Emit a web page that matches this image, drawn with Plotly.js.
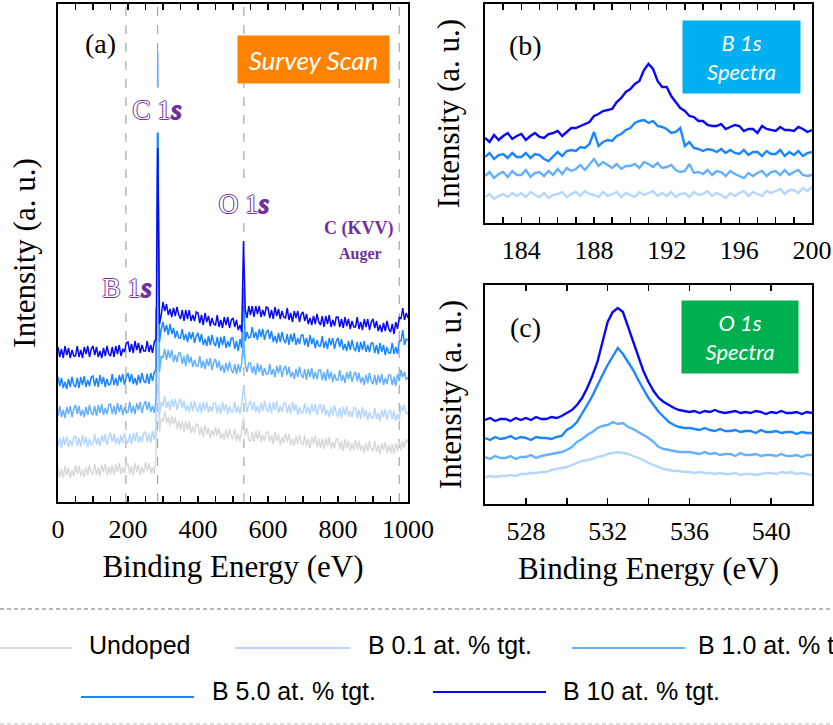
<!DOCTYPE html>
<html><head><meta charset="utf-8">
<script src="https://cdn.plot.ly/plotly-3.0.1.min.js"></script>
<style>html,body{margin:0;padding:0;background:#fff}</style>
</head><body><div id="chart" style="width:833px;height:725px"></div>
<script>
// ---------- DATA ----------
const seriesNames = ['Undoped', 'B 0.1 at. % tgt.', 'B 1.0 at. % tgt.', 'B 5.0 at. % tgt.', 'B 10 at. % tgt.'];

// Survey scan (panel a): binding energy grid start / step (eV)
const surveyStart = 0, surveyStep = 5;
const surveyUndoped = [35,25,33,24,36,27,34,24,32,26, 37,28,36,26,32,25,35,27,37,29, 28,38,27,34,26,37,30,38,27,35, 28,37,27,38,30,39,28,35,29,38,
 38,28,36,27,39,30,37,27,35,29, 40,31,39,29,35,28,44,180,70,84, 80,91,79,85,76,86,78,85,73,81, 72,81,70,81,72,81,69,76,69,78,
 77,67,75,65,77,68,74,64,72,66, 75,66,74,63,69,62,72,63,73,65, 63,73,61,68,60,71,85,66,74,62, 61,70,60,71,63,71,60,67,61,70,
 70,60,67,58,70,61,68,57,65,59, 69,60,68,57,63,56,66,58,67,59, 57,67,56,63,54,65,58,66,55,63, 54,63,53,64,56,65,53,60,54,63,
 63,53,61,51,63,54,61,51,59,52, 62,53,61,51,57,49,59,51,61,53, 51,61,50,57,48,59,52,60,49,57, 49,58,48,59,51,61,52,61,54,63, 59];
const surveyB01 = [55,64,54,65,57,66,55,62,56,65, 66,56,64,55,67,58,65,55,63,57, 58,68,57,64,56,67,60,68,57,65, 69,60,68,58,64,57,67,59,69,61,
 59,68,58,69,61,70,59,66,60,69, 70,60,68,59,71,62,74,250,86,100, 96,106,94,101,92,103,95,103,92,100, 103,94,101,91,97,90,100,91,101,93,
 90,99,89,100,92,100,89,96,90,99, 99,89,97,88,100,91,98,88,96,90, 90,100,89,96,88,99,115,100,90,98, 101,92,100,90,96,89,99,91,101,93,
 90,99,89,100,92,101,89,96,90,99, 99,89,97,88,100,91,98,87,95,89, 89,99,88,95,87,98,90,98,87,95, 98,89,97,87,92,85,95,87,97,89,
 85,94,84,95,87,96,85,91,85,94, 94,84,92,83,95,85,92,82,90,84, 84,94,83,89,81,92,85,93,82,90, 92,83,91,81,88,82,97,91,97,88, 90];
const surveyB1 = [86,96,85,92,84,95,88,96,85,93, 97,88,96,86,92,85,95,87,97,89, 87,96,86,97,89,98,87,94,88,97, 98,88,96,87,99,90,97,87,95,89,
 90,100,89,96,88,99,92,100,89,97, 101,92,100,90,96,89,103,450,130,146, 144,153,142,152,144,152,140,147,140,149, 149,138,146,136,148,139,145,135,142,136,
 136,146,134,141,133,143,136,144,132,140, 143,134,141,131,137,129,139,131,140,132, 129,138,128,138,130,139,165,138,130,139, 139,129,136,127,139,130,137,126,134,128,
 128,138,127,133,125,136,129,137,125,133, 136,127,135,125,130,123,133,125,135,127, 124,133,122,133,125,134,123,130,123,132, 132,122,130,121,133,123,130,120,128,122,
 122,132,121,127,119,130,123,131,120,127, 130,121,129,119,125,117,127,119,129,121, 118,127,117,127,119,128,117,124,118,127, 127,117,125,116,128,121,132,125,130,122, 125];
const surveyB5 = [125,116,124,114,120,113,123,115,125,117, 115,124,114,125,117,126,115,122,116,125, 126,116,124,115,127,118,125,115,123,117, 118,128,117,124,116,127,120,128,117,125,
 129,120,128,118,124,117,127,119,129,121, 119,128,118,129,121,130,132,370,160,173, 180,170,177,167,178,168,174,164,171,164, 164,173,162,168,160,170,163,170,159,166,
 169,160,168,157,163,156,166,157,167,159, 156,165,154,165,157,166,154,161,155,164, 164,153,161,151,163,154,215,161,170,164, 165,175,164,170,162,173,165,173,162,170,
 172,163,171,160,166,159,169,160,170,162, 159,168,157,168,160,169,157,164,158,167, 167,157,164,155,167,158,164,154,162,156, 156,166,154,161,153,164,157,164,153,161,
 164,155,163,152,158,151,161,152,162,154, 151,160,150,160,152,161,150,157,150,159, 159,149,157,148,159,150,157,147,155,149, 149,159,148,155,148,161,161,172,157,163, 162];
const surveyB10 = [155,145,153,144,156,147,154,144,152,146, 146,156,145,152,144,155,148,156,145,153, 156,147,155,145,151,144,154,146,156,148, 146,155,145,156,148,157,146,153,150,159,
 160,150,158,149,161,152,159,149,157,151, 151,161,150,157,149,160,163,354,178,187, 200,191,198,187,193,185,194,186,195,187, 183,192,181,192,183,192,181,187,181,190,
 189,179,187,177,189,180,186,176,184,178, 177,187,175,182,174,185,177,185,174,182, 184,175,182,172,177,170,261,192,184,196, 187,196,185,196,188,196,185,192,186,195,
 194,184,192,183,195,186,193,183,191,185, 184,194,182,189,180,191,184,191,180,188, 190,181,188,178,184,177,186,178,188,180, 177,186,175,186,178,187,175,182,176,185,
 185,175,183,174,185,176,183,173,181,175, 175,185,173,180,172,183,175,183,172,180, 183,174,181,171,177,170,179,171,181,173, 170,178,168,180,173,185,183,194,182,189, 184];

// B 1s high-resolution (panel b)
const b1sStart = 182, b1sStep = 0.25;
const b1sB01 = [26,29,24,27, 29,26,30,27, 30,26,31,28, 26,30,25,28, 29,31,26,29, 31,27,32,29, 28,26,31,27, 29,31,26,30, 28,26,31,28,
 30,32,27,30, 27,31,26,29, 30,26,31,28, 29,32,27,30, 28,25,30,27, 30,32,27,31, 29,27,32,30, 32,34,29,33, 33,30,35,32, 36];
const b1sB1 = [47,51,45,49, 51,46,52,48, 48,53,46,50, 51,47,52,48, 54,49,55,52, 54,58,53,59, 64,57,61,58, 55,59,54,57, 57,59,55,61,
 59,56,60,55, 56,58,53,51, 52,59,50,51, 49,53,48,52, 51,47,52,49, 47,45,50,47, 50,52,47,51, 52,48,53,48, 51,53,48,47, 48];
const b1sB5 = [66,70,64,68, 69,65,70,66, 66,70,65,69, 68,64,62,67, 71,67,72,73, 72,76,75,79, 91,77,81,83, 82,87,89,93, 95,100,102,103,
 100,102,97,96, 94,90,91,95, 77,81,75,74, 72,74,73,71, 74,70,73,70, 69,73,68,71, 71,67,72,69, 69,73,67,71, 68,72,67,70, 71];
const b1sB10 = [85,81,88,83, 87,90,84,87, 89,83,87,90, 86,85,89,90, 92,87,91,95, 95,97,99,101, 107,109,112,113, 114,121,125,131, 134,139,142,153,
 159,154,142,136, 136,127,121,115, 112,107,106,102, 102,98,97,97, 99,94,96,98, 97,92,94,94, 90,97,94,93, 92,96,93,93, 92,96,94,91, 93];

// O 1s high-resolution (panel c)
const o1sStart = 526, o1sStep = 0.25;
const o1sB01 = [27,28,27,28, 28,29,28,30, 30,31,31,32, 32,34,35,36, 37,39,41,43, 44,45,47,48, 50,51,52,51, 50,48,46,44,
 41,39,37,35, 34,33,33,32, 32,31,32,31, 31,30,31,30, 30,31,29,30, 30,29,30,31, 31,30,32,31, 32,30,31,30, 29];
const o1sB1 = [47,45,48,46, 46,48,45,47, 47,49,46,48, 49,50,51,52, 54,57,62,65, 69,72,76,78, 79,82,80,81, 77,75,72,69,
 66,62,57,55, 54,53,52,52, 52,51,50,52, 50,51,49,50, 50,48,51,49, 49,50,48,49, 49,48,50,48, 48,49,47,49, 49];
const o1sB5 = [66,64,67,65, 66,68,65,67, 66,64,67,66, 66,65,67,68, 74,77,82,90, 99,108,119,129, 139,148,156,150, 142,134,124,115,
 106,99,92,87, 82,79,77,76, 76,75,74,76, 74,73,75,73, 73,74,72,73, 73,71,74,72, 72,73,71,72, 72,70,72,71, 71];
const o1sB10 = [84,86,83,85, 85,83,86,84, 86,84,87,85, 85,87,86,88, 91,94,99,106, 116,128,142,162, 182,192,196,192, 177,162,146,133,
 122,113,106,102, 99,96,94,93, 92,93,91,93, 92,94,92,91, 92,93,91,92, 91,93,92,90, 92,91,93,91, 91,92,90,92, 91];

// Reference energies of the dashed lines in panel a (B 1s, C 1s, O 1s, C KVV)
const peakLines = [194, 284.5, 531, 975];

// Tick labels
const surveyTickVals = [0,50,100,150,200,250,300,350,400,450,500,550,600,650,700,750,800,850,900,950,1000];
const surveyTickText = ['0','','','','200','','','','400','','','','600','','','','800','','','','1000'];
const b1sTickVals = [182,183,184,185,186,187,188,189,190,191,192,193,194,195,196,197,198,199,200];
const b1sTickText = ['','','184','','','','188','','','','192','','','','196','','','','200'];
const o1sTickVals = [526,528,530,532,534,536,538,540,542];
const o1sTickText = ['','528','','532','','536','','540',''];

// ---------- STYLE ----------
const colors = ['#D9D9D9', '#B5D7FF', '#63B0FF', '#1A86FF', '#0A0AF2'];
const W = 833, H = 725;
const px = x => x / W, py = y => 1 - y / H;
const serif = 'Liberation Serif';
const sans = 'Liberation Sans';

const surveyData = [surveyUndoped, surveyB01, surveyB1, surveyB5, surveyB10];
const b1sData = [b1sB01, b1sB1, b1sB5, b1sB10];
const o1sData = [o1sB01, o1sB1, o1sB5, o1sB10];

const traces = [];
surveyData.forEach((y, i) => traces.push({type: 'scatter', mode: 'lines', x0: surveyStart, dx: surveyStep, y,
  xaxis: 'x', yaxis: 'y', name: seriesNames[i], showlegend: false, line: {color: colors[i], width: 1.5}}));
b1sData.forEach((y, i) => traces.push({type: 'scatter', mode: 'lines', x0: b1sStart, dx: b1sStep, y,
  xaxis: 'x2', yaxis: 'y2', name: seriesNames[i + 1], showlegend: false, line: {color: colors[i + 1], width: 2.4}}));
o1sData.forEach((y, i) => traces.push({type: 'scatter', mode: 'lines', x0: o1sStart, dx: o1sStep, y,
  xaxis: 'x3', yaxis: 'y3', name: seriesNames[i + 1], showlegend: false, line: {color: colors[i + 1], width: 2.4}}));

const xBase = {ticks: 'inside', ticklen: 6, tickwidth: 1.5, tickcolor: '#000', showline: true, linewidth: 2,
  linecolor: '#000', mirror: 'ticks', showgrid: false, zeroline: false, tickmode: 'array', ticklabelstandoff: 3,
  tickfont: {family: serif, size: 26, color: '#000'}};
const yBase = {showticklabels: false, ticks: '', showline: true, linewidth: 2, linecolor: '#000',
  mirror: true, showgrid: false, zeroline: false};
const titleFont = {family: serif, size: 31, color: '#000'};

const shapes = peakLines.map(e => ({type: 'line', xref: 'x', yref: 'paper', x0: e, x1: e, y0: py(502), y1: py(4),
  line: {color: '#A6A6A6', width: 1.2, dash: 'dash'}, layer: 'below'}));
shapes.push({type: 'line', xref: 'paper', yref: 'paper', x0: 0, x1: 1, y0: py(609), y1: py(609),
  line: {color: '#A0A0A0', width: 1.5, dash: '4px,3px'}});
shapes.push({type: 'line', xref: 'paper', yref: 'paper', x0: 0, x1: 1, y0: py(724), y1: py(724),
  line: {color: '#D0D0D0', width: 1.5, dash: '4px,3px'}});

const purple = '#7030A0';
const outline = `1px 0 0 ${purple}, -1px 0 0 ${purple}, 0 1px 0 ${purple}, 0 -1px 0 ${purple}`;
const ann = [];
function label(text, x, y, opts) {
  ann.push(Object.assign({text, xref: 'paper', yref: 'paper', x: px(x), y: py(y), xanchor: 'center',
    yanchor: 'middle', showarrow: false}, opts));
}
label('(a)', 100, 44, {font: {family: serif, size: 28, color: '#000'}});
label('(b)', 525, 45, {font: {family: serif, size: 28, color: '#000'}});
label('(c)', 525, 327, {font: {family: serif, size: 28, color: '#000'}});
const peakFont = {family: serif, size: 27, color: '#FFFFFF', shadow: outline};
const sSpan = `<span style="color:${purple}"><i>s</i></span>`;
label('C 1' + sSpan, 157, 110, {font: peakFont, bgcolor: '#FFFFFF', width: 56, height: 44, borderpad: 0});
label('O 1' + sSpan, 244, 204, {font: peakFont, bgcolor: '#FFFFFF', width: 56, height: 34, borderpad: 0});
label('B 1' + sSpan, 127, 288, {font: peakFont, bgcolor: '#FFFFFF', width: 56, height: 40, borderpad: 0});
label('<b>C (KVV)</b>', 359, 229, {font: {family: serif, size: 18, color: purple}});
label('<b>Auger</b>', 360, 254, {font: {family: serif, size: 16, color: purple}});
const boxFont = {family: 'Lato', size: 26, color: '#FFFFFF', style: 'italic'};
label('Survey Scan', 313.5, 59.5, {font: boxFont, bgcolor: '#FF8200', width: 151, height: 47, borderpad: 0});
label('B 1s<br>Spectra', 741.5, 57, {font: Object.assign({}, boxFont, {size: 22}), bgcolor: '#00B0F0', width: 117, height: 72, borderpad: 0});
label('O 1s<br>Spectra', 740, 337, {font: Object.assign({}, boxFont, {size: 22}), bgcolor: '#00B050', width: 116, height: 72, borderpad: 0});

// Legend (drawn manually below the panels)
const legendItems = [
  {i: 0, x0: -40, x1: 72, y: 648, tx: 87, ty: 645},
  {i: 1, x0: 235, x1: 350, y: 648, tx: 366, ty: 645},
  {i: 2, x0: 572, x1: 685, y: 648, tx: 696, ty: 645},
  {i: 3, x0: 81, x1: 194, y: 697, tx: 210, ty: 691},
  {i: 4, x0: 433, x1: 546, y: 692, tx: 561, ty: 691}
];
legendItems.forEach(it => {
  shapes.push({type: 'line', xref: 'paper', yref: 'paper', x0: px(it.x0), x1: px(it.x1), y0: py(it.y), y1: py(it.y),
    line: {color: colors[it.i], width: 2.2}});
  ann.push({text: seriesNames[it.i], xref: 'paper', yref: 'paper', x: px(it.tx), y: py(it.ty), xanchor: 'left',
    yanchor: 'middle', showarrow: false, font: {family: sans, size: 25, color: '#000'}});
});

const layout = {
  width: W, height: H, margin: {l: 0, r: 0, t: 0, b: 0}, paper_bgcolor: '#FFFFFF', plot_bgcolor: '#FFFFFF',
  showlegend: false, font: {family: serif, size: 26, color: '#000'},
  xaxis: Object.assign({}, xBase, {domain: [px(58), px(408)], range: [0, 1000], anchor: 'y',
    tickvals: surveyTickVals, ticktext: surveyTickText,
    title: {text: 'Binding Energy (eV)', font: titleFont, standoff: 12}}),
  yaxis: Object.assign({}, yBase, {domain: [py(502), py(4)], range: [0, 498], anchor: 'x',
    title: {text: 'Intensity (a. u.)', font: titleFont, standoff: 11}}),
  xaxis2: Object.assign({}, xBase, {domain: [px(485), px(812)], range: [182, 200], anchor: 'y2',
    tickvals: b1sTickVals, ticktext: b1sTickText}),
  yaxis2: Object.assign({}, yBase, {domain: [py(223), py(4)], range: [0, 219], anchor: 'x2',
    title: {text: 'Intensity (a. u.)', font: titleFont, standoff: 14}}),
  xaxis3: Object.assign({}, xBase, {domain: [px(485), px(812)], range: [526, 542], anchor: 'y3',
    tickvals: o1sTickVals, ticktext: o1sTickText,
    title: {text: 'Binding Energy (eV)', font: titleFont, standoff: 12}}),
  yaxis3: Object.assign({}, yBase, {domain: [py(504), py(285)], range: [0, 219], anchor: 'x3',
    title: {text: 'Intensity (a. u.)', font: titleFont, standoff: 12}}),
  shapes, annotations: ann
};
Plotly.newPlot('chart', traces, layout, {staticPlot: true, displayModeBar: false});
</script></body></html>
